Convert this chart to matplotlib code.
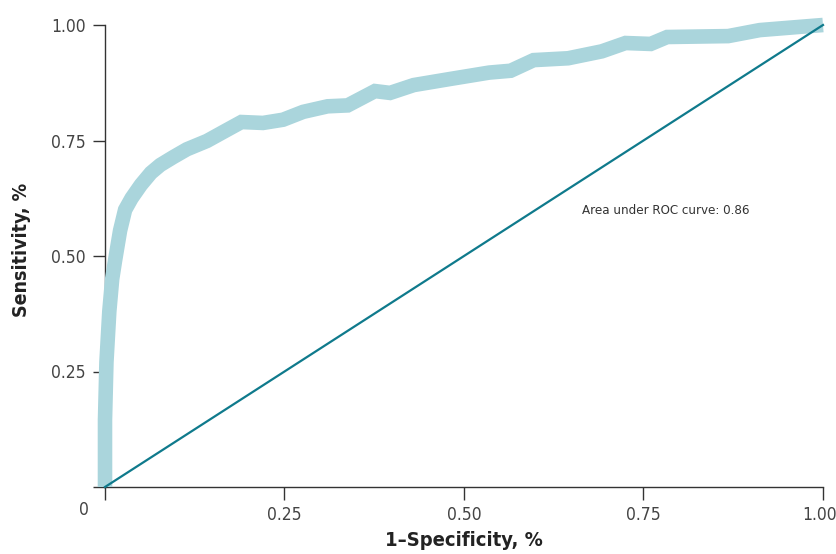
import matplotlib
matplotlib.use("Agg")
import matplotlib.pyplot as plt
import matplotlib.transforms as mtransforms
from matplotlib import font_manager as fm

entries = fm.fontManager.ttflist
names = {f.name for f in entries}
if "Liberation Sans Narrow" in names:
    fam = "Liberation Sans Narrow"
elif any(f.name == "DejaVu Sans" and str(f.stretch) in ("condensed", "semi-condensed", "87.5", "75")
         for f in entries):
    fam = "DejaVu Sans"
    plt.rcParams['font.stretch'] = "condensed"
else:
    fam = "Liberation Sans"
plt.rcParams['font.family'] = [fam, 'DejaVu Sans']

# ROC curve data (1-specificity, sensitivity)
fpr = [0.0, 0.0, 0.002, 0.006, 0.010, 0.014, 0.021, 0.028, 0.037, 0.050, 0.064,
       0.077, 0.095, 0.114, 0.142, 0.170, 0.190, 0.220, 0.248, 0.276, 0.310,
       0.338, 0.376, 0.397, 0.430, 0.480, 0.535, 0.565, 0.597, 0.645, 0.692,
       0.725, 0.760, 0.783, 0.868, 0.912, 1.0]
tpr = [0.0, 0.145, 0.27, 0.38, 0.45, 0.49, 0.555, 0.60, 0.625, 0.654, 0.680,
       0.697, 0.714, 0.731, 0.749, 0.773, 0.790, 0.788, 0.795, 0.812, 0.824,
       0.826, 0.857, 0.853, 0.870, 0.883, 0.897, 0.901, 0.924, 0.928, 0.943,
       0.961, 0.959, 0.974, 0.976, 0.989, 1.0]
ref_x = [0.0, 1.0]
ref_y = [0.0, 1.0]
xticks = [0.0, 0.25, 0.50, 0.75, 1.00]
xlabels = ["", "0.25", "0.50", "0.75", "1.00"]
yticks = [0.0, 0.25, 0.50, 0.75, 1.00]
ylabels = ["", "0.25", "0.50", "0.75", "1.00"]
auc_text = "Area under ROC curve: 0.86"

fig = plt.figure(figsize=(8.37, 5.54), dpi=100)
ax = fig.add_axes([105/837, 1-487/554, 718/837, 462/554])

ax.plot(fpr, tpr, color="#aad5dc", lw=10.5, solid_joinstyle="miter",
        solid_capstyle="butt", clip_on=False, zorder=3)
ax.plot(ref_x, ref_y, color="#0f7a8c", lw=1.6, clip_on=False, zorder=4)

ax.set_xlim(0, 1)
ax.set_ylim(0, 1)
ax.spines['top'].set_visible(False)
ax.spines['right'].set_visible(False)
for s in ['left', 'bottom']:
    ax.spines[s].set_color("#333333")
    ax.spines[s].set_linewidth(1.0)
    ax.spines[s].set_zorder(1)
ax.set_xticks(xticks)
ax.set_xticklabels(xlabels)
ax.set_yticks(yticks)
ax.set_yticklabels(ylabels)
ax.tick_params(direction="out", length=9, width=1.0, color="#333333",
               labelsize=12.5, labelcolor="#444444", pad=5)

# nudge the last x tick label so it stays inside the canvas
last = ax.get_xticklabels()[-1]
last.set_transform(last.get_transform() +
                   mtransforms.ScaledTranslation(-3/100, 0, fig.dpi_scale_trans))

ax.text(-21/718, -23/462, "0", transform=ax.transAxes, fontsize=12.5,
        color="#444444", ha="center", va="center")

ax.set_xlabel("1\u2013Specificity, %", fontsize=14.5, fontweight="bold",
              color="#222222")
ax.xaxis.label.set_va("center")
ax.xaxis.set_label_coords((464-105)/718, (487-541)/462)
ax.set_ylabel("Sensitivity, %", fontsize=14, fontweight="bold",
              color="#222222")
ax.yaxis.label.set_va("center")
ax.yaxis.set_label_coords((22-105)/718, (487-250)/462)

ax.text((666-105)/718, (487-211)/462, auc_text, fontsize=9.5, color="#333333",
        ha="center", va="center", transform=ax.transAxes)

fig.savefig("out.png", dpi=100)
